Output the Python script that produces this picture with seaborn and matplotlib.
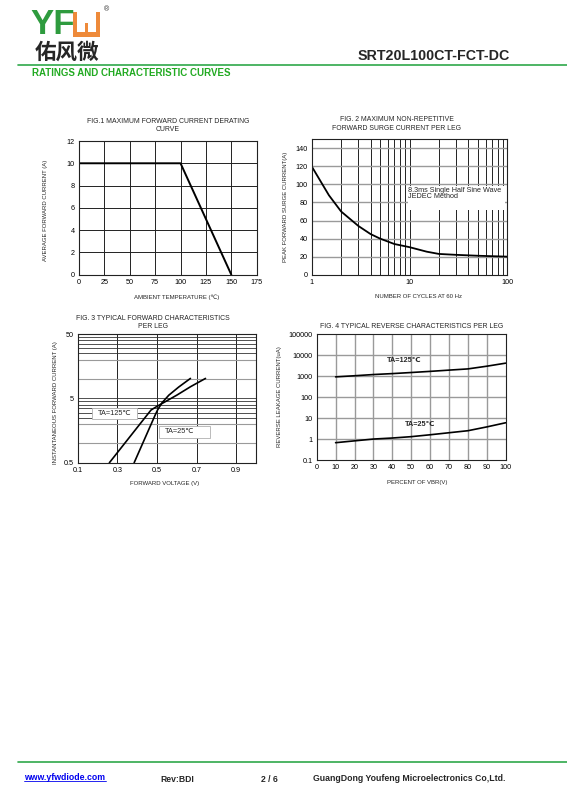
import matplotlib
matplotlib.use("Agg")
import numpy as np
import pandas as pd
import seaborn as sns
import matplotlib.pyplot as plt
from matplotlib.patches import Rectangle
from matplotlib.lines import Line2D
from matplotlib.ticker import NullFormatter, FixedLocator

# ---------------- data ----------------
fig1_temp = [0, 100, 150]
fig1_current = [10, 10, 0]
fig1_xticks = [0, 25, 50, 75, 100, 125, 150, 175]
fig1_yticks = [0, 2, 4, 6, 8, 10, 12]

fig2_cycles = [1, 1.5, 2, 3, 4, 5, 7, 10, 15, 20, 30, 50, 100]
fig2_surge = [120, 88, 70, 54, 45, 40, 34, 30.5, 25.5, 23, 22, 21, 20]
fig2_yticks = [0, 20, 40, 60, 80, 100, 120, 140]
fig2_xticks = [1, 10, 100]

fig3_v125 = [0.26, 0.45, 0.47, 0.50, 0.60, 0.67, 0.745]
fig3_i125 = [0.5, 2.75, 3.29, 3.75, 5.6, 7.6, 10.2]
fig3_v25 = [0.385, 0.491, 0.503, 0.525, 0.56, 0.61, 0.669]
fig3_i25 = [0.5, 2.75, 3.29, 4.25, 5.6, 7.5, 10.2]
fig3_xticks = [0.1, 0.3, 0.5, 0.7, 0.9]
fig3_yticks = [0.5, 5, 50]
fig3_ygrid = [0.5, 1, 2, 2.5, 3, 3.5, 4, 4.5, 5, 10, 20, 25, 30, 35, 40, 45, 50]

fig4_pct = [10, 20, 30, 40, 50, 60, 70, 80, 90, 100]
fig4_i125 = [930, 1050, 1200, 1330, 1500, 1700, 1950, 2230, 3000, 4200]
fig4_i25 = [0.67, 0.82, 1.0, 1.12, 1.3, 1.6, 2.0, 2.5, 3.8, 6.0]
fig4_xticks = [0, 10, 20, 30, 40, 50, 60, 70, 80, 90, 100]
fig4_yticks = [0.1, 1, 10, 100, 1000, 10000, 100000]

# ---------------- style ----------------
sns.set_style("white")
plt.rcParams['font.family'] = ['Liberation Sans', 'DejaVu Sans']
plt.rcParams['axes.linewidth'] = 0.8

W, H = 567, 805
fig = plt.figure(figsize=(W / 100, H / 100), dpi=100)
fig.patch.set_facecolor("white")


def fx(x):
    return x / W


def fy(y):
    return 1 - y / H


def add_ax(l, t, r, b):
    return fig.add_axes([fx(l), fy(b), fx(r) - fx(l), (b - t) / H])


def ftext(x, y, s, **kw):
    kw.setdefault("ha", "center")
    kw.setdefault("va", "center")
    fig.text(fx(x), fy(y), s, **kw)


TICK_FS = 5.2
TITLE_FS = 4.95
LAB_FS = 4.3
DARK = "#222222"
GRAY = "#9a9a9a"
GREEN = "#2fa84a"

# ---------------- header ----------------
ftext(30, 25, "YF", ha="left", fontsize=25, fontweight="bold", color="#2e9b3e")
# stylised logo mark
orange = "#ee8a3a"
for (x0, y0, w, h) in [(72.7, 12, 4, 25), (96, 12, 4, 25), (72.7, 32, 27.3, 5), (85, 23, 3, 10)]:
    fig.patches.append(Rectangle((fx(x0), fy(y0 + h)), w / W, h / H, transform=fig.transFigure,
                                 facecolor=orange, edgecolor="none"))
ftext(106, 10, "®", fontsize=5)
ftext(67, 52, "佑风微", fontsize=15.5, fontweight="bold", family=["Noto Sans CJK SC", "DejaVu Sans"])
ftext(510, 56, "SRT20L100CT-FCT-DC", ha="right", fontsize=10.3, fontweight="bold")
fig.lines.append(Line2D([fx(18), 1], [fy(65), fy(65)], transform=fig.transFigure, color=GREEN, lw=1.2))
ftext(32, 73, "RATINGS AND CHARACTERISTIC CURVES", ha="left", fontsize=7.0, fontweight="bold",
      color="#22aa22")

# ---------------- footer ----------------
fig.lines.append(Line2D([fx(18), 1], [fy(761.7), fy(761.7)], transform=fig.transFigure, color=GREEN, lw=1.2))
ftext(24, 777, "www.yfwdiode.com", ha="left", fontsize=6.3, fontweight="bold", color="#0000ee")
fig.lines.append(Line2D([fx(24), fx(106)], [fy(781), fy(781)], transform=fig.transFigure, color="#0000ee", lw=0.6))
ftext(160, 779.5, "Rev:BDI", ha="left", fontsize=6.2, fontweight="bold")
ftext(269.5, 779, "2 / 6", fontsize=6.2, fontweight="bold")
ftext(313, 778.3, "GuangDong Youfeng Microelectronics Co,Ltd.", ha="left", fontsize=6.3, fontweight="bold")

# ---------------- Fig 1 ----------------
ax1 = add_ax(79, 141, 256.7, 274.7)
for v in fig1_xticks[1:-1]:
    ax1.axvline(v, color=DARK, lw=0.7, zorder=1)
for v in fig1_yticks[1:-1]:
    ax1.axhline(v, color=DARK, lw=0.7, zorder=1)
sns.lineplot(x=fig1_temp, y=fig1_current, ax=ax1, color="black", lw=1.4, sort=False, estimator=None)
ax1.set_xlim(0, 175)
ax1.set_ylim(0, 12)
ax1.set_xticks(fig1_xticks)
ax1.set_yticks(fig1_yticks)
ftext(168, 121.7, "FIG.1 MAXIMUM FORWARD CURRENT DERATING", fontsize=TITLE_FS)
ftext(168, 129, "CURVE", fontsize=TITLE_FS)
ftext(176.7, 297.3, "AMBIENT TEMPERATURE (℃)", fontsize=LAB_FS)
ftext(45, 210, "AVERAGE FORWARD CURRENT (A)", fontsize=LAB_FS, rotation=90)

# ---------------- Fig 2 ----------------
ax2 = add_ax(311.7, 139.3, 507.3, 274.7)
ax2.set_xscale("log")
fig2_xgrid = [2, 3, 4, 5, 6, 7, 8, 9, 10, 20, 30, 40, 50, 60, 70, 80, 90]
for v in fig2_xgrid:
    ax2.axvline(v, color=DARK, lw=0.7, zorder=1)
for v in fig2_yticks[1:]:
    ax2.axhline(v, color=GRAY, lw=1.0, zorder=1)
ax2.add_patch(Rectangle((9.6, 72), 95 - 9.6, 26, facecolor="white", edgecolor="none", zorder=1.5))
sns.lineplot(x=fig2_cycles, y=fig2_surge, ax=ax2, color="black", lw=1.3, sort=False, estimator=None)
ax2.set_xlim(1, 100)
ax2.set_ylim(0, 150)
ax2.set_xticks(fig2_xticks)
ax2.set_xticklabels(["1", "10", "100"])
ax2.xaxis.set_minor_formatter(NullFormatter())
ax2.set_yticks(fig2_yticks)
ax2.text(9.7, 93, "8.3ms Single Half Sine Wave", fontsize=5.2, va="center", ha="left", zorder=3)
ax2.text(9.7, 87, "JEDEC Method", fontsize=5.2, va="center", ha="left", zorder=3)
ftext(396.7, 119.3, "FIG. 2 MAXIMUM NON-REPETITIVE", fontsize=TITLE_FS)
ftext(396.7, 128.3, "FORWARD SURGE CURRENT PER LEG", fontsize=TITLE_FS)
ftext(418.3, 296, "NUMBER OF CYCLES AT 60 Hz", fontsize=LAB_FS)
ftext(285, 206.7, "PEAK FORWARD SURGE CURRENT(A)", fontsize=LAB_FS, rotation=90)

# ---------------- Fig 3 ----------------
ax3 = add_ax(77.7, 334, 256, 462.7)
ax3.set_yscale("log")
for v in fig3_xticks[1:]:
    ax3.axvline(v, color=DARK, lw=0.7, zorder=1)
for v in fig3_ygrid[1:-1]:
    c = GRAY if v in (1, 2, 10, 20) else "#333333"
    ax3.axhline(v, color=c, lw=0.8 if c == GRAY else 0.6, zorder=1)
sns.lineplot(x=fig3_v125, y=fig3_i125, ax=ax3, color="black", lw=1.2, sort=False, estimator=None)
sns.lineplot(x=fig3_v25, y=fig3_i25, ax=ax3, color="black", lw=1.2, sort=False, estimator=None)
ax3.set_xlim(0.1, 1.0)
ax3.set_ylim(0.5, 50)
ax3.set_xticks(fig3_xticks)
ax3.set_xticklabels(["0.1", "0.3", "0.5", "0.7", "0.9"])
ax3.yaxis.set_minor_locator(FixedLocator([]))
ax3.set_yticks(fig3_yticks)
ax3.set_yticklabels(["0.5", "5", "50"])
ax3.yaxis.set_minor_formatter(NullFormatter())
ax3.add_patch(Rectangle((0.171, 2.38), 0.399 - 0.171, 3.49 - 2.38, facecolor="white",
                        edgecolor="#b0b0b0", lw=0.6, zorder=3))
ax3.text(0.285, 2.88, "TA=125℃", fontsize=5.3, ha="center", va="center", zorder=4)
ax3.add_patch(Rectangle((0.512, 1.22), 0.77 - 0.512, 1.85 - 1.22, facecolor="white",
                        edgecolor="#b0b0b0", lw=0.6, zorder=3))
ax3.text(0.614, 1.50, "TA=25℃", fontsize=5.3, ha="center", va="center", zorder=4)
ftext(152.7, 318.3, "FIG. 3 TYPICAL FORWARD CHARACTERISTICS", fontsize=TITLE_FS)
ftext(152.7, 326.7, "PER LEG", fontsize=TITLE_FS)
ftext(165, 483.7, "FORWARD VOLTAGE (V)", fontsize=LAB_FS)
ftext(55, 403, "INSTANTANEOUS FORWARD CURRENT (A)", fontsize=LAB_FS, rotation=90)

# ---------------- Fig 4 ----------------
ax4 = add_ax(316.7, 334.3, 505.7, 460)
ax4.set_yscale("log")
for v in fig4_xticks[1:-1]:
    ax4.axvline(v, color=GRAY, lw=1.0, zorder=1)
for v in fig4_yticks[1:-1]:
    ax4.axhline(v, color=GRAY, lw=1.0, zorder=1)
sns.lineplot(x=fig4_pct, y=fig4_i125, ax=ax4, color="black", lw=1.2, sort=False, estimator=None)
sns.lineplot(x=fig4_pct, y=fig4_i25, ax=ax4, color="black", lw=1.2, sort=False, estimator=None)
ax4.set_xlim(0, 100)
ax4.set_ylim(0.1, 100000)
ax4.set_xticks(fig4_xticks)
ax4.yaxis.set_minor_locator(FixedLocator([]))
ax4.set_yticks(fig4_yticks)
ax4.set_yticklabels(["0.1", "1", "10", "100", "1000", "10000", "100000"])
ax4.text(46.5, 5800, "TA=125℃", fontsize=5.2, fontweight="bold", ha="center", va="center")
ax4.text(54.7, 5.0, "TA=25℃", fontsize=5.2, fontweight="bold", ha="center", va="center")
ftext(411.7, 326, "FIG. 4 TYPICAL REVERSE CHARACTERISTICS PER LEG", fontsize=TITLE_FS)
ftext(416.7, 482.7, "PERCENT OF VBR(V)", fontsize=LAB_FS)
ftext(280, 396.7, "REVERSE LEAKAGE CURRENT(uA)", fontsize=LAB_FS, rotation=90)

for ax in (ax1, ax2, ax3, ax4):
    ax.tick_params(which="both", length=0, pad=3, labelsize=TICK_FS, colors="black")
    ax.set_xlabel("")
    ax.set_ylabel("")
    for s in ax.spines.values():
        s.set_color(DARK)
        s.set_linewidth(0.8)
        s.set_visible(True)
    ax.set_facecolor("white")

fig.savefig("out.png", dpi=100, facecolor="white")
